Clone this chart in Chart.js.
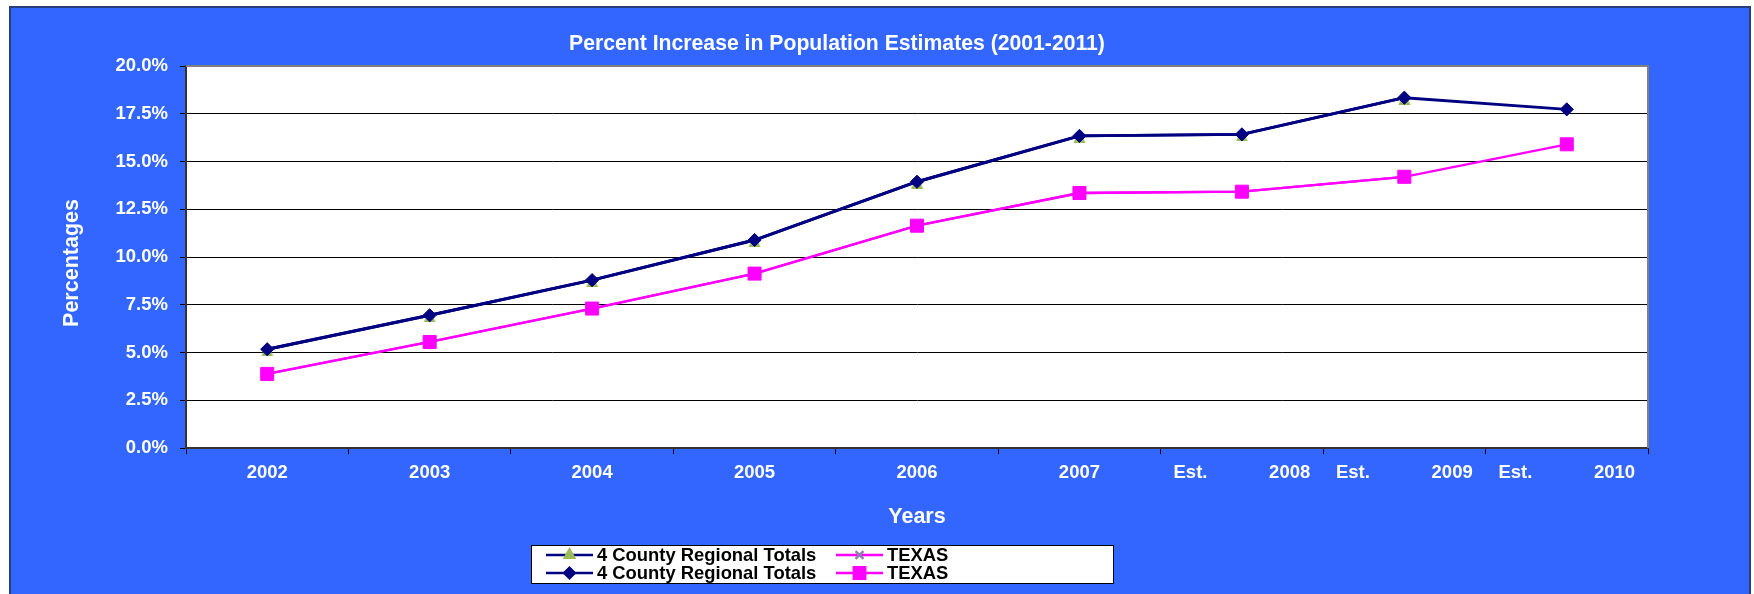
<!DOCTYPE html>
<html>
<head>
<meta charset="utf-8">
<script src="https://cdn.jsdelivr.net/npm/chart.js@4/dist/chart.umd.min.js"></script>
<style>
  html, body { margin: 0; padding: 0; background: #ffffff; width: 1754px; height: 594px; overflow: hidden; }
  #frame { position: absolute; left: 9px; top: 6px; width: 1738px; height: 600px; background: #3366FF; border: 2px solid #2a3d78; }
  #wrap { position: absolute; left: 10px; top: 0; width: 1654px; height: 594px; }
</style>
</head>
<body>
<div id="frame"></div>
<div id="wrap"><canvas id="c" width="1654" height="594"></canvas></div>
<script>
// Percent increase in population estimates, by year
const categories = ['2002', '2003', '2004', '2005', '2006', '2007', 'Est. 2008', 'Est. 2009', 'Est. 2010'];
const regionalTotalsA = [5.17, 6.95, 8.79, 10.89, 13.94, 16.34, 16.42, 18.34, null];
const texasA = [3.88, 5.55, 7.30, 9.13, 11.64, 13.35, 13.42, 14.20, null];
const regionalTotalsB = [5.17, 6.95, 8.79, 10.89, 13.94, 16.34, 16.42, 18.34, 17.73];
const texasB = [3.88, 5.55, 7.30, 9.13, 11.64, 13.35, 13.42, 14.20, 15.90];
const yTickValues = [0, 2.5, 5, 7.5, 10, 12.5, 15, 17.5, 20];

const TITLE = 'Percent Increase in Population Estimates (2001-2011)';
const Y_TITLE = 'Percentages';
const FONT = "'Liberation Sans', Arial, sans-serif";
const NAVY = '#000080';
const MAGENTA = '#FF00FF';
const GREEN = '#9BBB59';

Chart.defaults.font.family = FONT;
Chart.defaults.font.weight = 'bold';
Chart.defaults.color = '#ffffff';

// Triangle marker whose box is centred on the point (base sits low)
function makeTriangle(w, h, color) {
  const c = document.createElement('canvas');
  c.width = w; c.height = h;
  const g = c.getContext('2d');
  g.fillStyle = color;
  g.beginPath();
  g.moveTo(w / 2, 1);
  g.lineTo(w - 0.5, h);
  g.lineTo(0.5, h);
  g.closePath();
  g.fill();
  return c;
}
const triangleMarker = makeTriangle(13, 14, GREEN);

// White plot background plus grey frame on top/right
const plotFrame = {
  id: 'plotFrame',
  beforeDraw(chart) {
    const { ctx, chartArea: a } = chart;
    ctx.save();
    ctx.fillStyle = '#ffffff';
    ctx.fillRect(a.left, a.top, a.right - a.left, a.bottom - a.top);
    ctx.restore();
  },
  beforeDatasetsDraw(chart) {
    const { ctx, chartArea: a } = chart;
    ctx.save();
    ctx.strokeStyle = '#808080';
    ctx.lineWidth = 2;
    ctx.beginPath();
    ctx.moveTo(a.left, a.top);
    ctx.lineTo(a.right, a.top);
    ctx.lineTo(a.right, a.bottom);
    ctx.stroke();
    ctx.restore();
  }
};

// Chart title and vertical axis title
const titles = {
  id: 'titles',
  afterDraw(chart) {
    const { ctx } = chart;
    ctx.save();
    ctx.fillStyle = '#ffffff';
    ctx.textAlign = 'center';
    ctx.textBaseline = 'middle';
    ctx.font = 'bold 21.2px ' + FONT;
    ctx.fillText(TITLE, 827, 44);
    ctx.translate(62, 263);
    ctx.rotate(-Math.PI / 2);
    ctx.font = 'bold 21.5px ' + FONT;
    ctx.fillText(Y_TITLE, 0, 0);
    ctx.restore();
  }
};

// Boxed legend: line sample with marker, two columns
const legendMarkers = [
  { pointStyle: 'triangle', radius: 5.4 },
  { pointStyle: 'crossRot', radius: 5.6 },
  { pointStyle: 'rectRot', radius: 5.2 },
  { pointStyle: 'rect', radius: 8 }
];
const boxLegend = {
  id: 'boxLegend',
  afterDraw(chart) {
    const { ctx } = chart;
    const box = { x: 521, y: 545, w: 582, h: 38 };
    ctx.save();
    ctx.fillStyle = '#ffffff';
    ctx.fillRect(box.x, box.y, box.w, box.h);
    ctx.strokeStyle = '#000000';
    ctx.lineWidth = 1;
    ctx.strokeRect(box.x + 0.5, box.y + 0.5, box.w, box.h);

    const cols = [15, 305];
    const rows = [10, 28];
    chart.data.datasets.forEach((ds, i) => {
      const x0 = box.x + cols[i % 2];
      const y0 = box.y + rows[Math.floor(i / 2)];
      ctx.strokeStyle = ds.borderColor;
      ctx.lineWidth = 2.5;
      ctx.beginPath();
      ctx.moveTo(x0, y0);
      ctx.lineTo(x0 + 47, y0);
      ctx.stroke();
      ctx.fillStyle = ds.pointBorderColor;
      ctx.strokeStyle = ds.pointBorderColor;
      const m = legendMarkers[i];
      Chart.helpers.drawPoint(ctx, {
        pointStyle: m.pointStyle, rotation: 0, radius: m.radius, borderWidth: 1.2
      }, x0 + 23.5, y0);
      ctx.fillStyle = '#000000';
      ctx.font = 'bold 18.4px ' + FONT;
      ctx.textBaseline = 'middle';
      ctx.textAlign = 'left';
      ctx.fillText(ds.label, x0 + 51, y0 + 1);
    });
    ctx.restore();
  }
};

new Chart(document.getElementById('c'), {
  type: 'line',
  data: {
    labels: categories,
    datasets: [
      {
        label: '4 County Regional Totals', data: regionalTotalsA, order: 3,
        borderColor: NAVY, borderWidth: 2.9,
        pointStyle: triangleMarker, pointRadius: 7,
        pointBackgroundColor: GREEN, pointBorderColor: GREEN, pointBorderWidth: 1
      },
      {
        label: 'TEXAS', data: texasA, order: 2,
        borderColor: MAGENTA, borderWidth: 2.3,
        pointStyle: 'crossRot', pointRadius: 5,
        pointBackgroundColor: '#9080B0', pointBorderColor: '#9080B0', pointBorderWidth: 1.5
      },
      {
        label: '4 County Regional Totals', data: regionalTotalsB, order: 1,
        borderColor: NAVY, borderWidth: 2.9,
        pointStyle: 'rectRot', pointRadius: 6.6,
        pointBackgroundColor: NAVY, pointBorderColor: NAVY, pointBorderWidth: 1
      },
      {
        label: 'TEXAS', data: texasB, order: 0,
        borderColor: MAGENTA, borderWidth: 2.3,
        pointStyle: 'rect', pointRadius: 9.2,
        pointBackgroundColor: MAGENTA, pointBorderColor: MAGENTA, pointBorderWidth: 1
      }
    ]
  },
  options: {
    responsive: false,
    animation: false,
    devicePixelRatio: 1,
    layout: { padding: { left: 0, right: 16, top: 66, bottom: 0 } },
    plugins: {
      legend: { display: false },
      tooltip: { enabled: false },
      title: { display: false }
    },
    scales: {
      x: {
        offset: true,
        grid: {
          display: true, offset: true, drawOnChartArea: false, drawTicks: true,
          tickLength: 6, color: '#000000', tickColor: '#000000'
        },
        border: { display: true, color: '#333333', width: 2 },
        ticks: {
          color: '#ffffff', padding: 7.5, maxRotation: 0, autoSkip: false,
          font: { size: 18.5, weight: 'bold' },
          callback: (v, i) => categories[i].replace('Est. ', 'Est.' + ' '.repeat(12))
        },
        title: {
          display: true, text: 'Years', color: '#ffffff',
          font: { size: 21.5, weight: 'bold', lineHeight: 1.2 },
          padding: { top: 0, bottom: 63.6 }
        },
        afterFit: (s) => { s.height = 146; }
      },
      y: {
        min: 0, max: 20,
        afterBuildTicks: (s) => { s.ticks = yTickValues.map(v => ({ value: v })); },
        grid: {
          drawTicks: true, tickLength: 6,
          color: (c) => (c.tick && c.tick.value === 20) ? 'rgba(0,0,0,0)' : '#000000',
          tickColor: '#000000',
          lineWidth: 1
        },
        border: { display: true, color: '#333333', width: 2 },
        ticks: {
          color: '#ffffff', padding: 12,
          font: { size: 18.5, weight: 'bold' },
          callback: (v) => Number(v).toFixed(1) + '%'
        },
        title: { display: false },
        afterFit: (s) => { s.width = 176; }
      }
    }
  },
  plugins: [plotFrame, titles, boxLegend]
});
</script>
</body>
</html>
